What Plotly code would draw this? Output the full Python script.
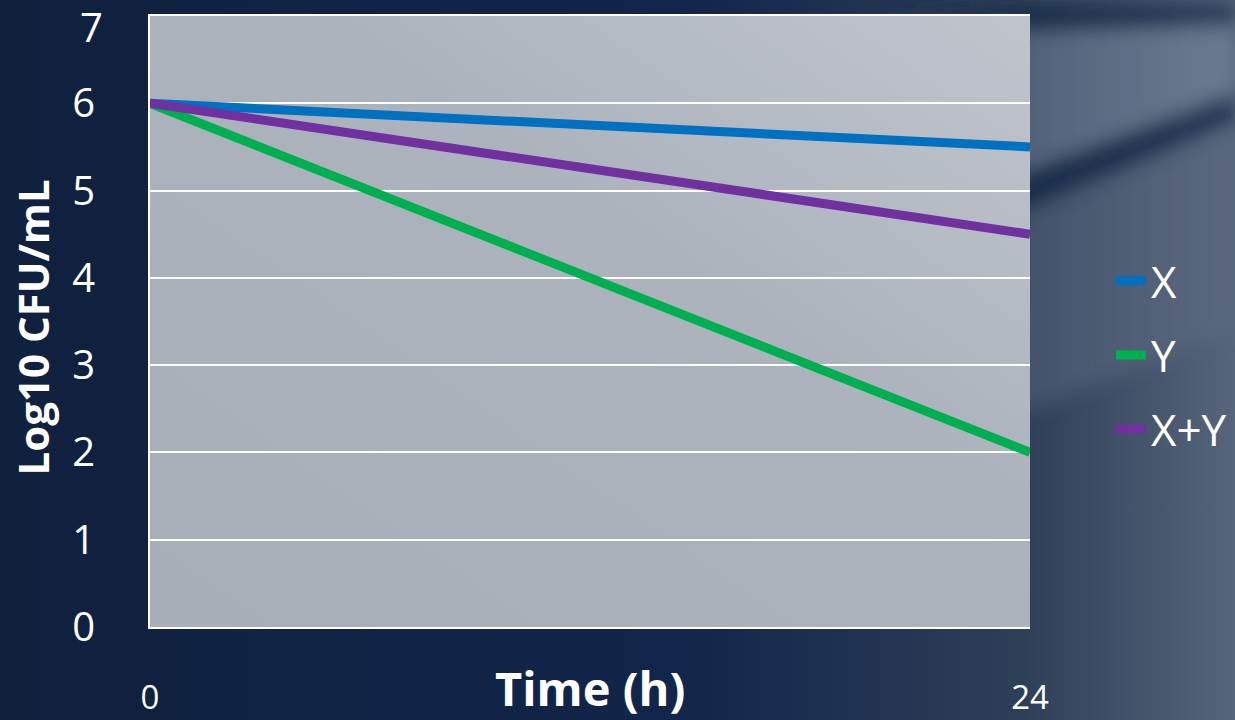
import base64
import plotly.graph_objects as go

# ---- data ----
time_h = [0, 24]
series_names = ["X", "Y", "X+Y"]
x_vals = [6.0, 5.5]
y_vals = [6.0, 2.0]
xy_vals = [6.0, 4.5]
colors = ["#0070c0", "#00b050", "#7030a0"]
y_ticks = [0, 1, 2, 3, 4, 5, 6, 7]
y_ticklabels = ["0", "1", "2", "3", "4", "5", "6", ""]
top_label = "7"
x_ticks = [0, 24]

FONT = "Open Sans"

bg_svg = """<svg xmlns='http://www.w3.org/2000/svg' width='1235' height='720' viewBox='0 0 1235 720' preserveAspectRatio='none'>
<defs>
<linearGradient id='g' x1='0' y1='0' x2='1' y2='0'>
<stop offset='0' stop-color='#0f213d'/>
<stop offset='0.55' stop-color='#12254a'/>
<stop offset='0.83' stop-color='#2e3f58'/>
<stop offset='1' stop-color='#56657b'/>
</linearGradient>
<linearGradient id='fadeL' gradientUnits='userSpaceOnUse' x1='880' y1='0' x2='1235' y2='0'>
<stop offset='0' stop-color='#5c6c84' stop-opacity='0'/>
<stop offset='0.45' stop-color='#5c6c84' stop-opacity='0.8'/>
<stop offset='1' stop-color='#6b7a90' stop-opacity='1'/>
</linearGradient>
<linearGradient id='fadeD' gradientUnits='userSpaceOnUse' x1='880' y1='0' x2='1235' y2='0'>
<stop offset='0' stop-color='#1a2b48' stop-opacity='0'/>
<stop offset='0.4' stop-color='#1a2b48' stop-opacity='0.9'/>
<stop offset='1' stop-color='#213252' stop-opacity='0.85'/>
</linearGradient>
<linearGradient id='fadeM' gradientUnits='userSpaceOnUse' x1='880' y1='0' x2='1235' y2='0'>
<stop offset='0' stop-color='#4e5d75' stop-opacity='0'/>
<stop offset='0.5' stop-color='#4e5d75' stop-opacity='0.7'/>
<stop offset='1' stop-color='#5a697f' stop-opacity='0.9'/>
</linearGradient>
<filter id='b' x='-0.2' y='-0.2' width='1.4' height='1.4'><feGaussianBlur stdDeviation='9'/></filter>
</defs>
<rect width='1235' height='720' fill='url(#g)'/>
<g filter='url(#b)'>
<polygon points='880,270 1235,130 1235,330 880,470' fill='url(#fadeM)'/>
<polygon points='880,30 1235,22 1235,95 880,225' fill='url(#fadeL)'/>
<polygon points='880,225 1235,92 1235,122 880,270' fill='url(#fadeD)'/>
<polygon points='880,8 1235,4 1235,26 880,38' fill='url(#fadeD)'/>
</g>
</svg>"""

plot_svg = """<svg xmlns='http://www.w3.org/2000/svg' width='880' height='611' viewBox='0 0 880 611' preserveAspectRatio='none'>
<defs>
<linearGradient id='p' x1='0' y1='1' x2='1' y2='0'>
<stop offset='0' stop-color='#a7aeb8'/>
<stop offset='0.6' stop-color='#adb3bd'/>
<stop offset='1' stop-color='#c0c5cc'/>
</linearGradient>
</defs>
<rect width='880' height='611' fill='url(#p)'/>
</svg>"""


def uri(svg):
    return "data:image/svg+xml;base64," + base64.b64encode(svg.encode()).decode()


fig = go.Figure()
for i, (name, vals) in enumerate(zip(series_names, [x_vals, y_vals, xy_vals])):
    fig.add_trace(go.Scatter(
        x=time_h, y=vals, name=name, mode="lines",
        line=dict(color=colors[i], width=9),
        legendgroup=name,
    ))

fig.update_layout(
    width=1235, height=720,
    margin=dict(l=150, r=205, t=16, b=93, autoexpand=False),
    paper_bgcolor="#0f213d",
    plot_bgcolor="rgba(0,0,0,0)",
    font=dict(family=FONT, color="white"),
    showlegend=True,
    legend=dict(
        x=1.092, y=0.445, xanchor="left", yanchor="middle",
        font=dict(size=44, color="white", family=FONT),
        bgcolor="rgba(0,0,0,0)", tracegroupgap=14,
        itemwidth=30,
    ),
    images=[
        dict(source=uri(bg_svg), xref="paper", yref="paper", x=-150 / 880, y=1 + 16 / 611,
             sizex=1235 / 880, sizey=720 / 611, xanchor="left", yanchor="top",
             sizing="stretch", layer="below"),
        dict(source=uri(plot_svg), xref="x domain", yref="y domain", x=0, y=1,
             sizex=1, sizey=1, xanchor="left", yanchor="top",
             sizing="stretch", layer="below"),
    ],
    xaxis=dict(
        range=[0, 24], tickvals=x_ticks, ticktext=[str(v) for v in x_ticks],
        showgrid=False, zeroline=False, showline=True, mirror=True,
        linecolor="white", linewidth=2, automargin=False,
        ticks="", tickfont=dict(size=33, color="white", family=FONT),
        ticklabelstandoff=40, ticklabeloverflow="allow",
    ),
    yaxis=dict(
        range=[0, 7], tickvals=y_ticks, ticktext=y_ticklabels,
        showgrid=True, gridcolor="white", gridwidth=2,
        zeroline=False, showline=True, linecolor="white", linewidth=2, ticks="",
        automargin=False,
        tickfont=dict(size=40, color="white", family=FONT),
        ticklabelstandoff=45, ticklabeloverflow="allow",
    ),
    annotations=[
        dict(text=top_label, xref="paper", yref="y", x=0, y=y_ticks[-1],
             xshift=-45, yshift=-10, xanchor="right", yanchor="middle", showarrow=False,
             font=dict(size=40, color="white", family=FONT)),
        dict(text="<b>Time (h)</b>", xref="paper", yref="paper", x=0.5, y=0,
             yshift=-61, xanchor="center", yanchor="middle", showarrow=False,
             font=dict(size=47, color="white", family=FONT)),
        dict(text="<b>Log10 CFU/mL</b>", xref="paper", yref="paper", x=0, xshift=-118,
             y=0.5, yshift=-6, textangle=-90, xanchor="center", yanchor="middle",
             showarrow=False,
             font=dict(size=42, color="white", family=FONT)),
    ],
)

fig.write_html("out.html")
